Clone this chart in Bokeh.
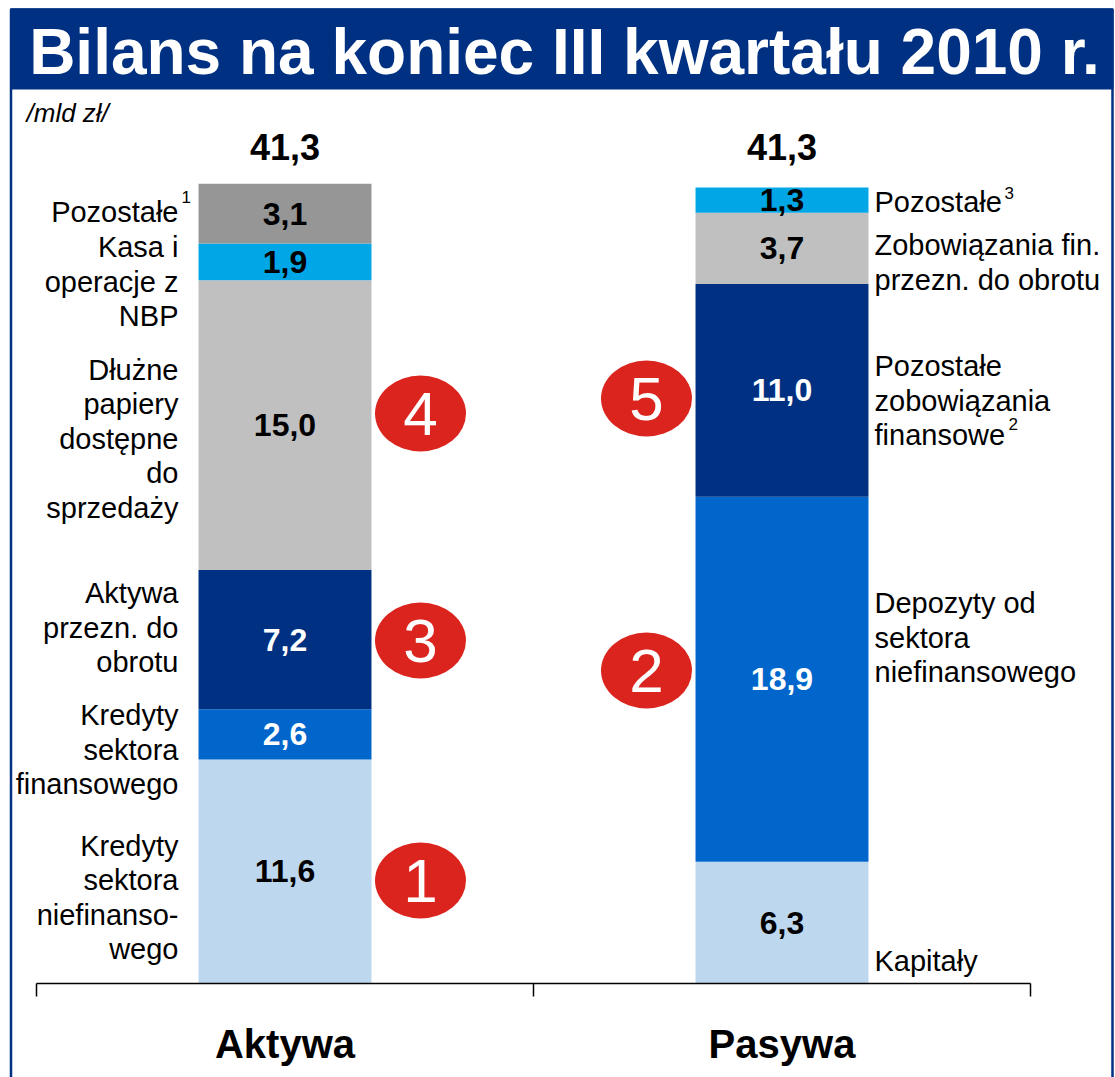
from bokeh.plotting import figure
from bokeh.models import ColumnDataSource, Range1d
from bokeh.core.properties import value
from bokeh.embed import file_html
from bokeh.resources import INLINE
import numpy as np

# ---------------- data ----------------
title = "Bilans na koniec III kwartału 2010 r."
unit_label = "/mld zł/"
sides = ["Aktywa", "Pasywa"]
totals = [41.3, 41.3]

assets_names = ["Kredyty\nsektora\nniefinanso-\nwego",
                "Kredyty\nsektora\nfinansowego",
                "Aktywa\nprzezn. do\nobrotu",
                "Dłużne\npapiery\ndostępne\ndo\nsprzedaży",
                "Kasa i\noperacje z\nNBP",
                "Pozostałe"]
assets_values = [11.6, 2.6, 7.2, 15.0, 1.9, 3.1]
assets_notes = ["", "", "", "", "", "1"]

liab_names = ["Kapitały",
              "Depozyty od\nsektora\nniefinansowego",
              "Pozostałe\nzobowiązania\nfinansowe",
              "Zobowiązania fin.\nprzezn. do obrotu",
              "Pozostałe"]
liab_values = [6.3, 18.9, 11.0, 3.7, 1.3]
liab_notes = ["", "", "2", "", "3"]

assets_marks = ["1", "", "3", "4", "", ""]
liab_marks = ["", "2", "5", "", ""]

# ---------------- styles / layout ----------------
NAVY = "#003082"
MBLUE = "#0066CC"
CYAN = "#00A6E6"
LBLUE = "#BDD7EE"
DGRAY = "#969696"
LGRAY = "#C0C0C0"
RED = "#DC241F"
FONT = value("Liberation Sans")

assets_colors = [LBLUE, MBLUE, NAVY, LGRAY, CYAN, DGRAY]
liab_colors = [LBLUE, MBLUE, NAVY, LGRAY, CYAN]
assets_txt = ["black", "white", "white", "black", "black", "black"]
liab_txt = ["black", "white", "white", "black", "black"]

# label block centres (page px) for side texts
assets_label_py = [897, 749, 627, 438, 281, 211]
liab_label_py = [960, 637, 400, 262, 201]
# marker centres (page px)
assets_mark_py = [880, None, 640, 413, None, None]
liab_mark_py = [None, 670, 398, None, None]
LINE_H = 34.5

W, H = 1115, 1077
X0, XS = 36.0, 497.0
Y0, YS = 983.0, 19.32


def dx(px):
    return (px - X0) / XS


def dy(py):
    return (Y0 - py) / YS


def fmt(v):
    return f"{v:.1f}".replace(".", ",")


p = figure(width=W, height=H, output_backend="svg", toolbar_location=None,
           x_range=Range1d(dx(0), dx(W)), y_range=Range1d(dy(H), dy(0)),
           x_axis_type=None, y_axis_type=None, min_border=0,
           outline_line_color=None, background_fill_color="white",
           border_fill_color="white")

# frame border and title bar
p.quad(left=[dx(10.5)], right=[dx(1112)], top=[dy(9)], bottom=[dy(1100)],
       fill_color=None, line_color=NAVY, line_width=2.5)
p.quad(left=[dx(9.5)], right=[dx(1113)], top=[dy(8)], bottom=[dy(89)],
       fill_color=NAVY, line_color=None)
p.text(x=[dx(564)], y=[dy(51)], text=[title], text_font=FONT,
       text_font_style="bold", text_font_size="64px", text_color="white",
       text_align="center", text_baseline="middle")
p.text(x=[dx(26)], y=[dy(112)], text=[unit_label], text_font=FONT,
       text_font_style="italic", text_font_size="26px", text_color="black",
       text_align="left", text_baseline="middle")

BAR_W = 0.348


def draw_stack(xc, values, colors, txtcols, names, label_py, marks, mark_py, side):
    vals = np.array(values)
    top = np.cumsum(vals)
    bottom = top - vals
    src = ColumnDataSource(dict(x=[xc] * len(vals), bottom=bottom, top=top,
                                color=colors, mid=(bottom + top) / 2,
                                lab=[fmt(v) for v in vals], tc=txtcols))
    p.vbar(x="x", bottom="bottom", top="top", width=BAR_W, fill_color="color",
           line_color=None, source=src)
    p.text(x="x", y="mid", text="lab", text_color="tc", source=src, text_font=FONT,
           text_font_style="bold", text_font_size="32px", text_align="center",
           text_baseline="middle")
    # side labels
    lx, ly, lt = [], [], []
    for name, cy in zip(names, label_py):
        lines = name.split("\n")
        n = len(lines)
        for i, ln in enumerate(lines):
            lx.append(dx(178) if side == "left" else dx(874))
            ly.append(dy(cy + (i - (n - 1) / 2) * LINE_H))
            lt.append(ln)
    p.text(x=lx, y=ly, text=lt, text_font=FONT, text_font_size="29px",
           text_color="black", text_align="right" if side == "left" else "left",
           text_baseline="middle")
    # markers
    mx, my, mt = [], [], []
    for m, cy in zip(marks, mark_py):
        if m:
            mx.append(dx(420) if side == "left" else dx(646))
            my.append(dy(cy))
            mt.append(m)
    p.ellipse(x=mx, y=my, width=91 / XS, height=76 / YS, fill_color=RED,
              line_color=None)
    p.text(x=mx, y=my, text=mt, text_font=FONT, text_font_size="62px",
           text_color="white", text_align="center", text_baseline="middle")
    return top[-1]


draw_stack(0.5, assets_values, assets_colors, assets_txt, assets_names,
           assets_label_py, assets_marks, assets_mark_py, "left")
draw_stack(1.5, liab_values, liab_colors, liab_txt, liab_names,
           liab_label_py, liab_marks, liab_mark_py, "right")

# footnote superscripts
sup_x = [dx(181), dx(1004), dx(1008)]
sup_y = [dy(196), dy(192), dy(423)]
sup_t = [assets_notes[5], liab_notes[4], liab_notes[2]]
p.text(x=sup_x, y=sup_y, text=sup_t, text_font=FONT, text_font_size="17px",
       text_color="black", text_align="left", text_baseline="middle")

# totals
p.text(x=[0.5, 1.5], y=[dy(146)] * 2, text=[fmt(t) for t in totals], text_font=FONT,
       text_font_style="bold", text_font_size="36px", text_color="black",
       text_align="center", text_baseline="middle")

# category axis
ticks = list(range(len(sides) + 1))
p.segment(x0=[0], y0=[0], x1=[len(sides)], y1=[0], line_color="black", line_width=1.5)
p.segment(x0=ticks, y0=[0] * len(ticks), x1=ticks, y1=[dy(996)] * len(ticks),
          line_color="black", line_width=1.5)
p.text(x=[i + 0.5 for i in range(len(sides))], y=[dy(1043)] * len(sides), text=sides,
       text_font=FONT, text_font_style="bold", text_font_size="40px",
       text_color="black", text_align="center", text_baseline="middle")

open("out.html", "w").write(file_html(p, INLINE))
